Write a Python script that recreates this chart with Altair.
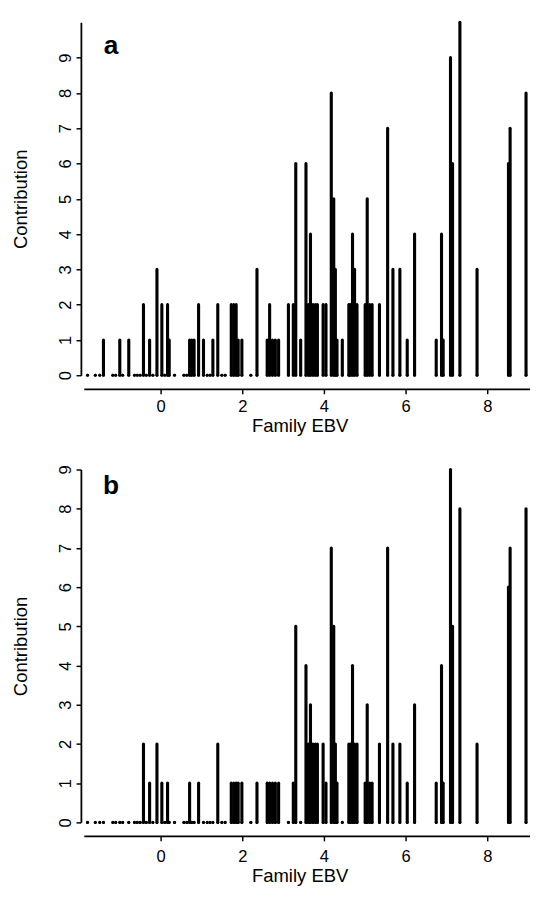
import altair as alt
import pandas as pd

# Family EBV positions (one per family) and their contributions in panels a and b
ebv = [-1.79, -1.60, -1.49, -1.40, -1.17, -1.10, -1.00, -0.93, -0.78, -0.64,
       -0.57, -0.50, -0.42, -0.35, -0.27, -0.19, -0.09, 0.03, 0.10, 0.17,
       0.21, 0.34, 0.57, 0.64, 0.71, 0.76, 0.82, 0.93, 1.05, 1.14,
       1.21, 1.28, 1.40, 1.50, 1.58, 1.73, 1.79, 1.85, 1.90, 1.99,
       2.21, 2.36, 2.61, 2.67, 2.74, 2.81, 2.89, 3.13, 3.25, 3.31,
       3.43, 3.56, 3.62, 3.67, 3.73, 3.79, 3.84, 3.98, 4.05, 4.18,
       4.24, 4.28, 4.32, 4.45, 4.61, 4.65, 4.70, 4.75, 4.81, 5.01,
       5.06, 5.12, 5.18, 5.36, 5.56, 5.69, 5.86, 6.04, 6.22, 6.75,
       6.88, 6.92, 7.10, 7.15, 7.33, 7.75, 8.52, 8.56, 8.95]
contrib_a = [0, 0, 0, 1, 0, 0, 1, 0, 1, 0,
             0, 0, 2, 0, 1, 0, 3, 2, 0, 2,
             1, 0, 0, 0, 1, 1, 1, 2, 1, 0,
             0, 1, 2, 0, 0, 2, 2, 2, 1, 1,
             0, 3, 1, 2, 1, 1, 1, 2, 2, 6,
             1, 6, 2, 4, 2, 2, 2, 2, 2, 8,
             5, 3, 1, 1, 2, 2, 4, 3, 2, 2,
             5, 2, 2, 2, 7, 3, 3, 1, 4, 1,
             4, 1, 9, 6, 10, 3, 6, 7, 8]
contrib_b = [0, 0, 0, 0, 0, 0, 0, 0, 0, 0,
             0, 0, 2, 0, 1, 0, 2, 1, 0, 1,
             0, 0, 0, 0, 1, 0, 0, 1, 0, 0,
             0, 0, 2, 0, 0, 1, 1, 1, 1, 1,
             0, 1, 1, 1, 1, 1, 1, 0, 1, 5,
             0, 4, 2, 3, 2, 2, 2, 2, 1, 7,
             5, 2, 1, 0, 2, 2, 4, 2, 2, 1,
             3, 1, 1, 2, 7, 2, 2, 1, 3, 1,
             4, 1, 9, 5, 8, 2, 6, 7, 8]

x_ticks = [0, 2, 4, 6, 8]
y_ticks_a = list(range(0, 10))
y_ticks_b = list(range(0, 10))

FONT = "Liberation Sans"
W, H = 459, 363
XDOM = [-1.881, 9.047]


def panel(values, ymax, yticks, letter, letter_y, lab_pad, title_pad):
    df = pd.DataFrame({"ebv": ebv, "c": values, "base": [0] * len(ebv)})
    xenc = alt.X(
        "ebv:Q",
        scale=alt.Scale(domain=XDOM, nice=False, zero=False),
        axis=alt.Axis(values=x_ticks, title="Family EBV", offset=14, tickSize=5,
                      labelPadding=lab_pad, titlePadding=title_pad, titleX=222,
                      labelFontSize=17, titleFontSize=19, domainWidth=1.8,
                      tickWidth=1.5, labelFlush=False, labelOverlap=False),
    )
    yaxis = alt.Axis(values=yticks, title="Contribution", offset=3, tickSize=5,
                     labelAngle=-90, labelPadding=2, titlePadding=22,
                     minExtent=30, maxExtent=30, labelFontSize=17,
                     titleFontSize=19, domainWidth=1.8,
                     tickWidth=1.5, labelOverlap=False)
    yenc = alt.Y("c:Q", scale=alt.Scale(domain=[0, ymax], nice=False), axis=yaxis)
    bars = alt.Chart(df).mark_rule(strokeWidth=3.2, strokeCap="round", color="black").encode(
        x=xenc, y=yenc, y2="base:Q"
    )
    dots = alt.Chart(df).mark_circle(size=8, color="black", opacity=1).encode(
        x=xenc, y=alt.Y("base:Q", axis=yaxis)
    )
    txt = alt.Chart(pd.DataFrame({"t": [letter]})).mark_text(
        font=FONT, fontSize=27, fontWeight="bold", align="center",
        baseline="alphabetic", color="black"
    ).encode(text="t:N", x=alt.value(28), y=alt.value(letter_y))
    return alt.layer(bars, dots, txt).properties(width=W, height=H)


pa = panel(contrib_a, 10, y_ticks_a, "a", 33, 5, 2.5)
pb = panel(contrib_b, 9, y_ticks_b, "b", 25, 8, 3)

chart = alt.vconcat(pa, pb, spacing=30).properties(
    padding={"left": 4, "top": 0, "right": 0, "bottom": 0}
).configure_view(stroke=None).configure_axis(
    labelFont=FONT, titleFont=FONT, labelColor="black", titleColor="black",
    domainColor="black", tickColor="black", grid=False, titleFontWeight="normal",
    labelOverlap=False
)

chart.save("out.html", embed_options={"renderer": "svg", "actions": False})
